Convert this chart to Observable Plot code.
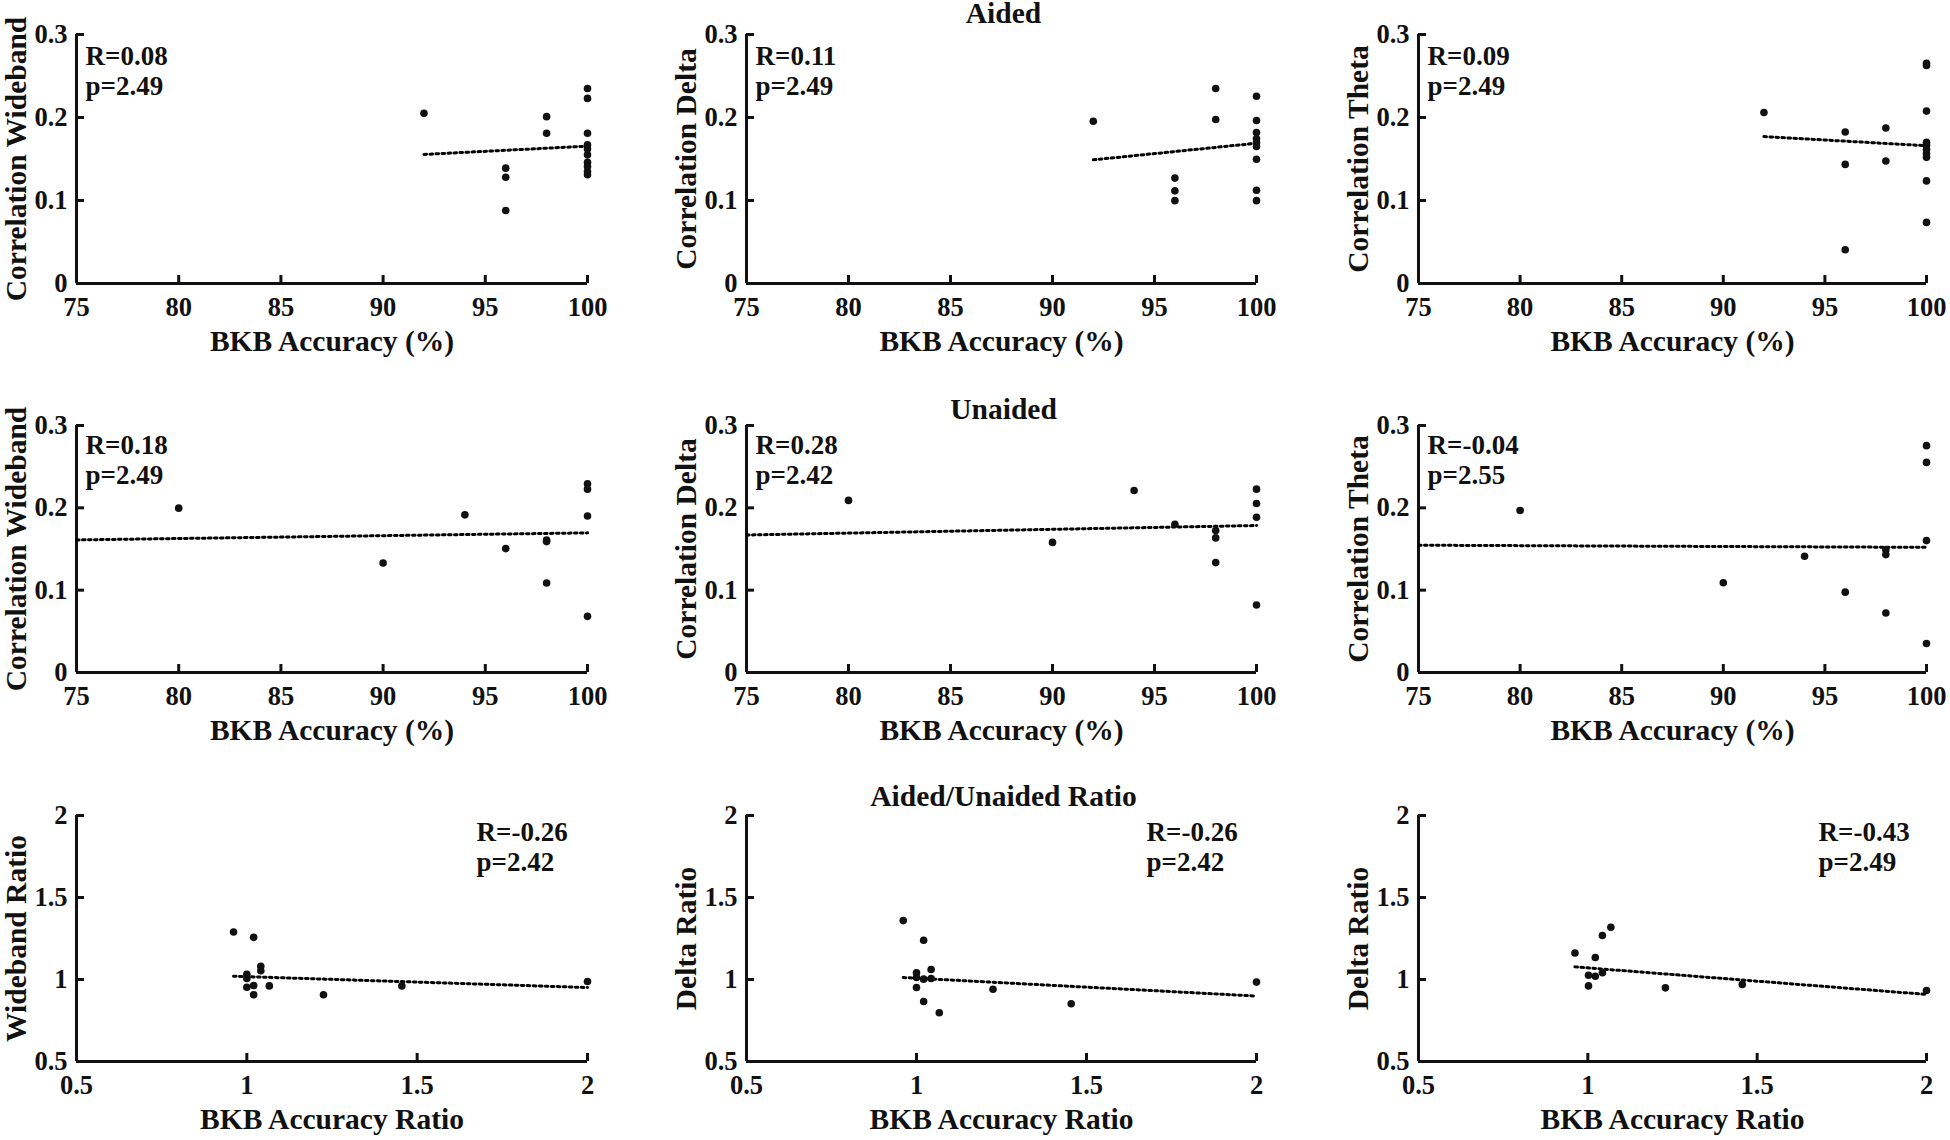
<!DOCTYPE html>
<html><head><meta charset="utf-8">
<script src="https://cdn.jsdelivr.net/npm/d3@7"></script>
<script src="https://cdn.jsdelivr.net/npm/@observablehq/plot@0.6"></script>
<style>
html,body{margin:0;padding:0;background:#fff;overflow:hidden}
#fig{position:relative;width:1950px;height:1140px;background:#fff}
#fig svg{position:absolute;overflow:visible;max-width:none}
</style></head><body><div id="fig"></div>
<script>
// ---------- data ----------
// Row 1: Aided
const aidedBKB       = [92, 96, 96, 96, 98, 98, 100, 100, 100, 100, 100, 100, 100, 100, 100, 100];
const aidedWideband  = [0.205, 0.139, 0.128, 0.088, 0.201, 0.181, 0.235, 0.223, 0.181, 0.167, 0.162, 0.155, 0.146, 0.141, 0.135, 0.131];
const aidedBKBDelta  = [92, 96, 96, 96, 98, 98, 100, 100, 100, 100, 100, 100, 100, 100, 100];
const aidedDelta     = [0.1955, 0.127, 0.1116, 0.0998, 0.235, 0.1976, 0.2256, 0.1963, 0.182, 0.1744, 0.1696, 0.165, 0.1497, 0.1124, 0.0998];
const aidedTheta     = [0.206, 0.1825, 0.1435, 0.0407, 0.1874, 0.1476, 0.2654, 0.2626, 0.2077, 0.17, 0.1667, 0.1618, 0.1565, 0.152, 0.1236, 0.0736];
// Row 2: Unaided
const unaidedBKB      = [80, 90, 94, 96, 98, 98, 98, 100, 100, 100, 100];
const unaidedWideband = [0.1996, 0.133, 0.1915, 0.1505, 0.161, 0.159, 0.1087, 0.2292, 0.2227, 0.190, 0.0682];
const unaidedDelta    = [0.209, 0.158, 0.221, 0.180, 0.1724, 0.1635, 0.1335, 0.2227, 0.2053, 0.1886, 0.082];
const unaidedTheta    = [0.1968, 0.109, 0.1412, 0.0976, 0.149, 0.1432, 0.0722, 0.2755, 0.2552, 0.1602, 0.0353];
// Row 3: Aided/Unaided ratio
const ratioBKB1      = [0.961, 1.02, 1.0, 1.0, 1.0, 1.02, 1.02, 1.041, 1.041, 1.066, 1.225, 1.455, 2.0];
const ratioWideband  = [1.290, 1.257, 1.032, 1.006, 0.953, 0.963, 0.907, 1.081, 1.053, 0.961, 0.907, 0.961, 0.988];
const ratioBKB2      = [0.961, 1.021, 1.0, 1.0, 1.0, 1.021, 1.021, 1.043, 1.043, 1.067, 1.225, 1.455, 2.0];
const ratioDelta     = [1.359, 1.239, 1.041, 1.012, 0.951, 1.002, 0.866, 1.061, 1.006, 0.797, 0.941, 0.852, 0.984];
const ratioBKB3      = [0.962, 1.068, 1.043, 1.022, 1.002, 1.022, 1.043, 1.002, 1.229, 1.456, 2.0];
const ratioDelta3    = [1.162, 1.319, 1.268, 1.134, 1.026, 1.020, 1.041, 0.961, 0.949, 0.970, 0.933];
// fitted (dotted) lines: endpoints
const fitAidedX   = [92, 100];
const fitAidedWB  = [0.1555, 0.1655];
const fitAidedD   = [0.149, 0.169];
const fitAidedT   = [0.177, 0.166];
const fitUnaidedX  = [75, 100];
const fitUnaidedWB = [0.161, 0.1696];
const fitUnaidedD  = [0.167, 0.1785];
const fitUnaidedT  = [0.1546, 0.152];
const fitRatioX    = [0.961, 2.0];
const fitRatioWB   = [1.020, 0.951];
const fitRatioD    = [1.012, 0.899];
const fitRatioX3   = [0.962, 2.0];
const fitRatioD3   = [1.077, 0.909];
// statistics text
const statsText = [
  ["R=0.08\np=2.49", "R=0.11\np=2.49", "R=0.09\np=2.49"],
  ["R=0.18\np=2.49", "R=0.28\np=2.42", "R=-0.04\np=2.55"],
  ["R=-0.26\np=2.42", "R=-0.26\np=2.42", "R=-0.43\np=2.49"]
];
const rowTitles = ["Aided", "Unaided", "Aided/Unaided Ratio"];
const yLabels = [
  ["Correlation Wideband", "Correlation Delta", "Correlation Theta"],
  ["Correlation Wideband", "Correlation Delta", "Correlation Theta"],
  ["Wideband Ratio", "Delta Ratio", "Delta Ratio"]
];
const xLabels = ["BKB Accuracy (%)", "BKB Accuracy (%)", "BKB Accuracy Ratio"];
const accTicks   = [75, 80, 85, 90, 95, 100];
const corrTicks  = [0, 0.1, 0.2, 0.3];
const ratioTicks = [0.5, 1, 1.5, 2];

// ---------- layout ----------
const FONT = "'Liberation Serif','Times New Roman',Times,serif";
const colL = [76, 746, 1418], colR = [587, 1256, 1926];
const rowT = [34, 425, 815], rowB = [283, 672, 1061];
const ML = 76, MR = 22, MT = 35, MB = 75;
const titleDy = [-21, -16, -19];
const statsDx = [9, 9, 400];
const statsDy = [36, 34, 31];

const panels = [
  {row:0,col:0,x:aidedBKB,y:aidedWideband,fx:fitAidedX,fy:fitAidedWB},
  {row:0,col:1,x:aidedBKBDelta,y:aidedDelta,fx:fitAidedX,fy:fitAidedD},
  {row:0,col:2,x:aidedBKB,y:aidedTheta,fx:fitAidedX,fy:fitAidedT},
  {row:1,col:0,x:unaidedBKB,y:unaidedWideband,fx:fitUnaidedX,fy:fitUnaidedWB},
  {row:1,col:1,x:unaidedBKB,y:unaidedDelta,fx:fitUnaidedX,fy:fitUnaidedD},
  {row:1,col:2,x:unaidedBKB,y:unaidedTheta,fx:fitUnaidedX,fy:fitUnaidedT},
  {row:2,col:0,x:ratioBKB1,y:ratioWideband,fx:fitRatioX,fy:fitRatioWB},
  {row:2,col:1,x:ratioBKB2,y:ratioDelta,fx:fitRatioX,fy:fitRatioD},
  {row:2,col:2,x:ratioBKB3,y:ratioDelta3,fx:fitRatioX3,fy:fitRatioD3}
];

const fig = document.getElementById("fig");
const INK = "#111";

for (const p of panels) {
  const isRatio = p.row === 2;
  const xTicks = isRatio ? ratioTicks : accTicks;
  const yTicks = isRatio ? ratioTicks : corrTicks;
  const xDomain = [xTicks[0], xTicks[xTicks.length - 1]];
  const yDomain = [yTicks[0], yTicks[yTicks.length - 1]];
  const iw = colR[p.col] - colL[p.col];
  const ih = rowB[p.row] - rowT[p.row];
  const pts = p.x.map((x, i) => ({x, y: p.y[i]}));
  const fit = p.fx.map((x, i) => ({x, y: p.fy[i]}));
  const fmt = d => String(d);

  const marks = [
    Plot.ruleY([yDomain[0]], {y: d => d, stroke: INK, strokeWidth: 3}),
    Plot.ruleX([xDomain[0]], {x: d => d, stroke: INK, strokeWidth: 3}),
    Plot.tickX(xTicks, {x: d => d, insetTop: ih - 8, stroke: INK, strokeWidth: 3}),
    Plot.tickY(yTicks, {y: d => d, insetRight: iw - 8, stroke: INK, strokeWidth: 3}),
    Plot.axisX({ticks: xTicks, tickSize: 0, tickPadding: 14, tickFormat: fmt, fontSize: 26.5, label: null}),
    Plot.axisY({ticks: yTicks, tickSize: 0, tickPadding: 9, tickFormat: fmt, fontSize: 26.5, label: null}),
    Plot.line(fit, {x: "x", y: "y", stroke: "#000", strokeWidth: 3, strokeDasharray: "2.6,3.4"}),
    Plot.dot(pts, {x: "x", y: "y", r: 3.8, fill: INK, stroke: "none"}),
    Plot.text([xLabels[p.row]], {text: d => d, frameAnchor: "bottom", textAnchor: "middle", dy: 58, lineAnchor: "middle", fontSize: 29.5}),
    Plot.text([yLabels[p.row][p.col]], {text: d => d, frameAnchor: "left", textAnchor: "middle", rotate: -90, dx: -60, lineAnchor: "middle", fontSize: 29.5}),
    Plot.text([statsText[p.row][p.col]], {text: d => d, frameAnchor: "top-left", textAnchor: "start", lineAnchor: "middle", lineHeight: 1.085, dx: statsDx[p.row], dy: statsDy[p.row], fontSize: 27})
  ];
  if (p.col === 1) {
    marks.push(Plot.text([rowTitles[p.row]], {text: d => d, frameAnchor: "top", textAnchor: "middle", dx: 2, dy: titleDy[p.row], lineAnchor: "middle", fontSize: 29.5}));
  }

  const svg = Plot.plot({
    width: ML + iw + MR,
    height: MT + ih + MB,
    marginLeft: ML, marginRight: MR, marginTop: MT, marginBottom: MB,
    x: {domain: xDomain, type: "linear"},
    y: {domain: yDomain, type: "linear"},
    style: {fontFamily: FONT, fontWeight: "bold", color: INK, background: "transparent", overflow: "visible"},
    marks
  });
  svg.style.left = (colL[p.col] - ML) + "px";
  svg.style.top = (rowT[p.row] - MT) + "px";
  fig.appendChild(svg);
}
</script>
</body></html>
